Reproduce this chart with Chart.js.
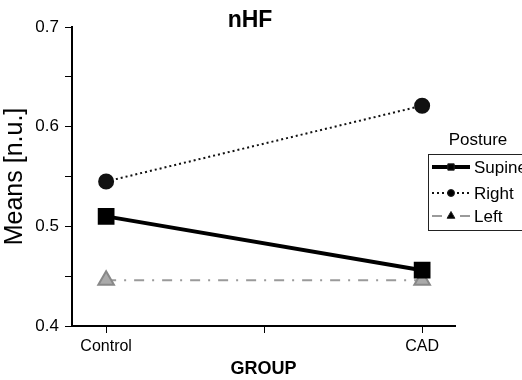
<!DOCTYPE html>
<html>
<head>
<meta charset="utf-8">
<script src="https://cdn.jsdelivr.net/npm/chart.js@4.4.1/dist/chart.umd.min.js"></script>
<style>
  html, body { margin: 0; padding: 0; background: #fff; }
  #wrap { width: 522px; height: 380px; }
</style>
</head>
<body>
<div id="wrap"><canvas id="chart" width="522" height="380"></canvas></div>
<script>
// Data
const groups = ['Control', 'CAD'];
const groupPos = [0, 1];
const supine = [0.510, 0.456];
const right = [0.545, 0.621];
const left = [0.446, 0.446];
const yMajorTicks = [0.4, 0.5, 0.6, 0.7];

const FONT = '"Liberation Sans", Arial, sans-serif';

function points(values) {
  return values.map((v, i) => ({ x: groupPos[i], y: v }));
}

// Draws the title and the boxed "Posture" legend by hand
const decorPlugin = {
  id: 'decor',
  afterDraw(chart) {
    const ctx = chart.ctx;
    ctx.save();
    ctx.fillStyle = '#000';
    ctx.textBaseline = 'middle';

    // title
    ctx.font = 'bold 23px ' + FONT;
    ctx.textAlign = 'center';
    ctx.fillText('nHF', 250, 21);

    // legend
    ctx.font = '17px ' + FONT;
    ctx.fillText('Posture', 478, 140);
    ctx.strokeStyle = '#222';
    ctx.lineWidth = 1;
    ctx.strokeRect(428.5, 154.5, 100, 76);

    const ds = chart.data.datasets;
    const rows = [167, 193, 216];
    ctx.textAlign = 'left';
    ds.forEach((d, i) => {
      const y = rows[i];
      ctx.save();
      ctx.strokeStyle = d.borderColor;
      ctx.lineWidth = d.borderWidth;
      ctx.setLineDash(d.borderDash || []);
      ctx.beginPath();
      ctx.moveTo(432, y);
      ctx.lineTo(470, y);
      ctx.stroke();
      ctx.restore();
      Chart.helpers.drawPoint(ctx, {
        pointStyle: d.pointStyle,
        radius: d.pointRadius * 0.5,
        borderWidth: 1
      }, 451, y);
      ctx.fillStyle = '#000';
      ctx.fillText(d.label, 474, y + 1);
    });
    ctx.restore();
  }
};

new Chart(document.getElementById('chart'), {
  type: 'line',
  data: {
    datasets: [
      {
        label: 'Supine',
        data: points(supine),
        borderColor: '#000',
        backgroundColor: '#000',
        borderWidth: 4,
        pointStyle: 'rect',
        pointRadius: 9,
        pointBorderColor: '#000',
        pointBackgroundColor: '#000'
      },
      {
        label: 'Right',
        data: points(right),
        borderColor: '#111',
        backgroundColor: '#111',
        borderWidth: 2,
        borderDash: [2, 3],
        pointStyle: 'circle',
        pointRadius: 7,
        pointBorderColor: '#111',
        pointBackgroundColor: '#111'
      },
      {
        label: 'Left',
        data: points(left),
        borderColor: '#9a9a9a',
        backgroundColor: '#9a9a9a',
        borderWidth: 2,
        borderDash: [10, 8, 2, 8],
        pointStyle: 'triangle',
        pointRadius: 9,
        pointBorderColor: '#888',
        pointBackgroundColor: '#aaa'
      }
    ]
  },
  options: {
    responsive: false,
    animation: false,
    layout: { padding: { top: 27, right: 67, left: 0, bottom: 0 } },
    plugins: {
      legend: { display: false },
      title: { display: false },
      tooltip: { enabled: false }
    },
    scales: {
      x: {
        type: 'linear',
        min: -0.108,
        max: 1.104,
        afterBuildTicks(scale) {
          scale.ticks = [{ value: 0 }, { value: 0.5 }, { value: 1 }];
        },
        afterFit(scale) { scale.height = 54; },
        ticks: {
          color: '#000',
          font: { family: FONT, size: 16 },
          padding: 4,
          autoSkip: false,
          maxRotation: 0,
          callback(v) {
            const i = groupPos.indexOf(v);
            return i >= 0 ? groups[i] : '';
          }
        },
        grid: { drawOnChartArea: false, tickLength: 7, color: '#000' },
        border: { color: '#000', width: 2 },
        title: {
          display: true,
          text: 'GROUP',
          color: '#000',
          font: { family: FONT, size: 18, weight: 'bold' },
          padding: { top: 0, bottom: 0 }
        }
      },
      y: {
        min: 0.4,
        max: 0.7,
        afterBuildTicks(scale) {
          const t = [];
          for (let k = 0; k < yMajorTicks.length; k++) {
            t.push({ value: yMajorTicks[k] });
            if (k < yMajorTicks.length - 1) t.push({ value: yMajorTicks[k] + 0.05 });
          }
          scale.ticks = t;
        },
        afterFit(scale) { scale.width = 72; },
        ticks: {
          color: '#000',
          font: { family: FONT, size: 17 },
          padding: 6,
          callback(v) {
            return yMajorTicks.some(m => Math.abs(m - v) < 1e-6) ? v.toFixed(1) : '';
          }
        },
        grid: { drawOnChartArea: false, tickLength: 7, color: '#000' },
        border: { color: '#000', width: 2 },
        title: {
          display: true,
          text: 'Means [n.u.]',
          color: '#000',
          font: { family: FONT, size: 25 },
          padding: { top: 0, bottom: 3 }
        }
      }
    }
  },
  plugins: [decorPlugin]
});
</script>
</body>
</html>
